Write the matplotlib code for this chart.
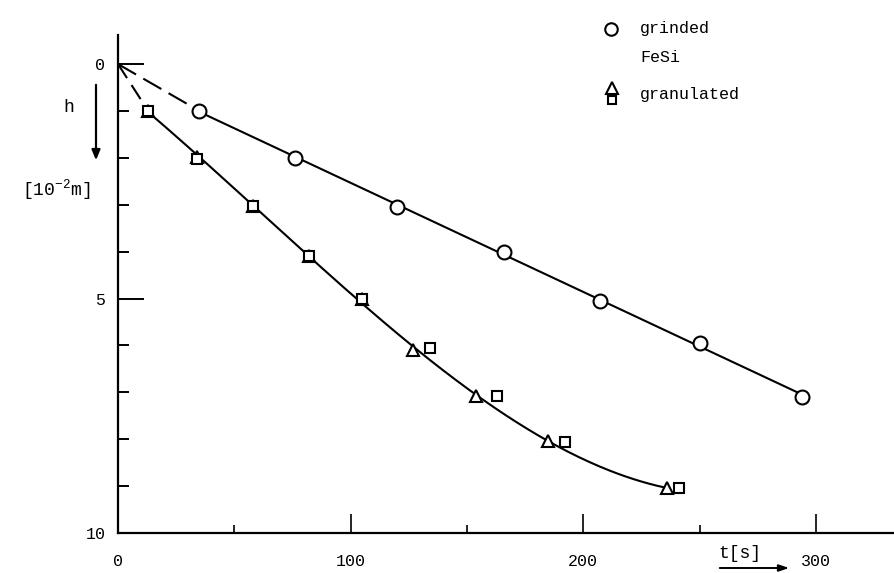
import numpy as np
import matplotlib.pyplot as plt

plt.rcParams['font.family'] = ['Liberation Mono', 'DejaVu Sans Mono']
plt.rcParams['mathtext.fontset'] = 'custom'
plt.rcParams['mathtext.rm'] = 'Liberation Mono'
plt.rcParams['mathtext.it'] = 'Liberation Mono'

# grinded FeSi (circles)
grinded_t = [35, 76, 120, 166, 207, 250, 294]
grinded_h = [1.0, 2.0, 3.05, 4.0, 5.05, 5.95, 7.1]

# granulated FeSi (triangles and squares)
tri_t = [13, 34, 58, 82, 105, 127, 154, 185, 236]
tri_h = [1.0, 1.98, 3.02, 4.1, 5.02, 6.09, 7.07, 8.03, 9.04]
sq_t = [13, 34, 58, 82, 105, 134, 163, 192, 241]
sq_h = [1.0, 2.02, 3.02, 4.1, 5.02, 6.05, 7.07, 8.05, 9.04]

xticks_major = [100, 200, 300]
xticks_minor = [50, 150, 250]
yticks_major = [0, 5, 10]
yticks_minor = [1, 2, 3, 4, 6, 7, 8, 9]

fig = plt.figure(figsize=(8.95, 5.73), dpi=100)
ax = fig.add_axes([118 / 895, 40 / 573, 1 - 118 / 895, 498 / 573])
ax.set_xlim(0, 334)
ax.set_ylim(10, -0.62)

lw = 1.5
# grinded: straight fit + dashed start from origin
k, b = np.polyfit(grinded_t, grinded_h, 1)
tt = np.linspace(grinded_t[0] - 2, grinded_t[-1] + 3, 50)
ax.plot(tt, k * tt + b, color='black', lw=lw)
ax.plot([0, grinded_t[0]], [0, grinded_h[0]], color='black', lw=lw, dashes=(10, 4))

# granulated: smooth curve through triangles + dashed start
c = np.polyfit(tri_t, tri_h, 3)
tt = np.linspace(tri_t[0], tri_t[-1], 200)
ax.plot(tt, np.polyval(c, tt), color='black', lw=lw)
ax.plot([0, tri_t[0]], [0, tri_h[0]], color='black', lw=lw, dashes=(8, 4))

mk = dict(linestyle='none', markerfacecolor='white', markeredgecolor='black',
          markeredgewidth=1.5, zorder=3)
ax.plot(grinded_t, grinded_h, marker='o', markersize=10, **mk)
ax.plot(tri_t, tri_h, marker='^', markersize=9, **mk)
ax.plot(sq_t, sq_h, marker='s', markersize=7, **mk)

# axes styling
for s in ['top', 'right']:
    ax.spines[s].set_visible(False)
for s in ['left', 'bottom']:
    ax.spines[s].set_linewidth(1.6)

ax.set_xticks([0] + xticks_major)
ax.set_xticks(xticks_minor, minor=True)
ax.set_xticklabels(['0', '100', '200', '300'])
ax.set_yticks(yticks_major)
ax.set_yticks(yticks_minor, minor=True)
ax.set_yticklabels(['0', '5', '10'])
ax.tick_params(axis='x', which='major', direction='in', length=14, width=1.2,
               pad=15, labelsize=12)
ax.tick_params(axis='x', which='minor', direction='in', length=6, width=1.2)
ax.tick_params(axis='y', which='major', direction='in', length=19, width=1.4,
               pad=9, labelsize=12)
ax.tick_params(axis='y', which='minor', direction='in', length=8, width=1.4)

# y label with arrow
fig.text(69 / 895, 1 - 107 / 573, 'h', ha='center', va='center', fontsize=13)
fig.patches.append(plt.matplotlib.patches.FancyArrowPatch(
    (96 / 895, 1 - 82 / 573), (96 / 895, 1 - 163 / 573), transform=fig.transFigure,
    arrowstyle='-|>,head_length=6,head_width=2.5', color='black', lw=1.6))
fig.text(56 / 895, 1 - 190 / 573, r'[10$^{-2}$m]', ha='center', va='center',
         fontsize=13)

# x label with arrow
fig.text(740 / 895, 1 - 553 / 573, 't[s]', ha='center', va='center', fontsize=13)
fig.patches.append(plt.matplotlib.patches.FancyArrowPatch(
    (717 / 895, 1 - 568 / 573), (792 / 895, 1 - 568 / 573), transform=fig.transFigure,
    arrowstyle='-|>,head_length=6,head_width=2', color='black', lw=1.4))

# legend
mkl = dict(linestyle='none', markerfacecolor='white', markeredgecolor='black',
           markeredgewidth=1.5, transform=fig.transFigure, clip_on=False)
fig.add_artist(plt.Line2D([611 / 895], [1 - 29 / 573], marker='o', markersize=9, **mkl))
fig.add_artist(plt.Line2D([612 / 895], [1 - 88 / 573], marker='^', markersize=8, **mkl))
fig.add_artist(plt.Line2D([612 / 895], [1 - 100 / 573], marker='s', markersize=6, **mkl))
fig.text(640 / 895, 1 - 28 / 573, 'grinded', ha='left', va='center', fontsize=12)
fig.text(640 / 895, 1 - 58 / 573, 'FeSi', ha='left', va='center', fontsize=12)
fig.text(640 / 895, 1 - 95 / 573, 'granulated', ha='left', va='center', fontsize=12)

fig.savefig('out.png', dpi=100)
